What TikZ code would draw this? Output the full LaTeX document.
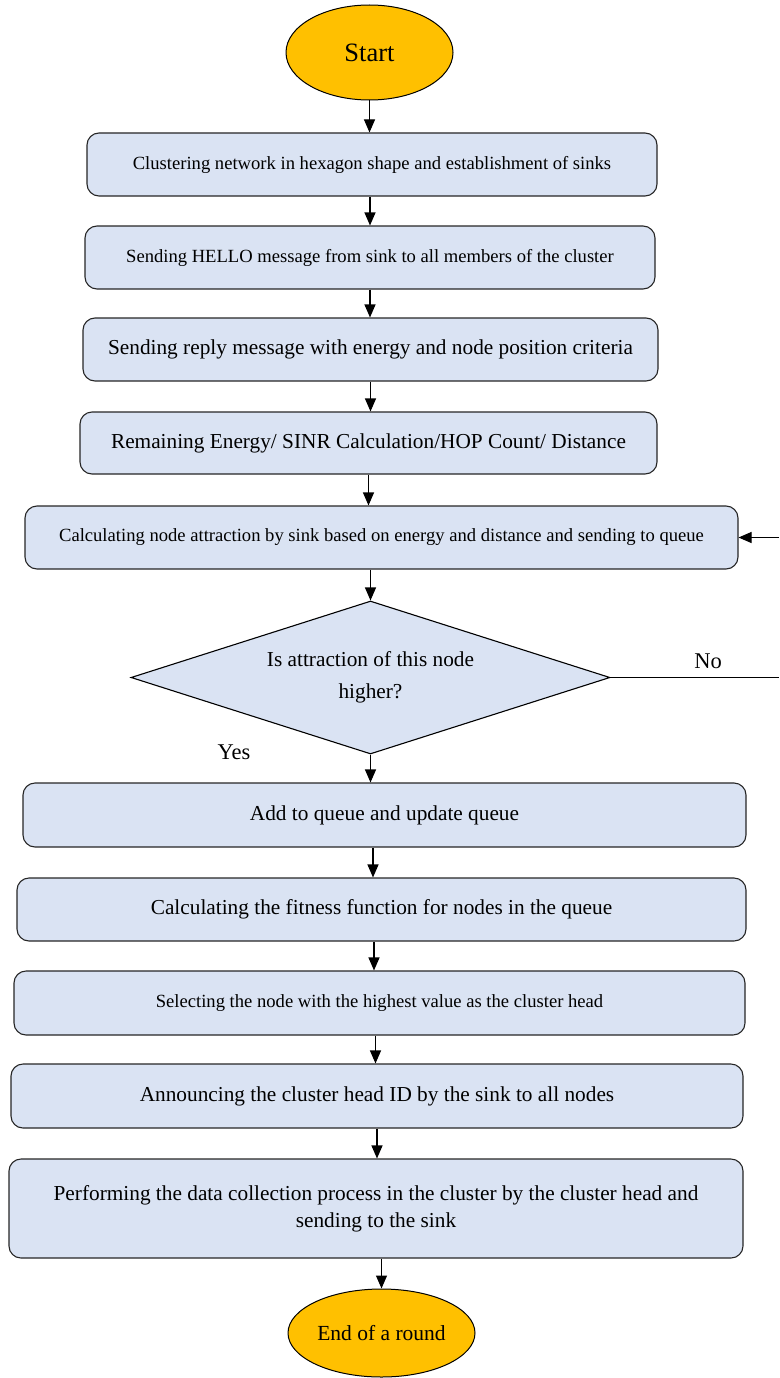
\documentclass[tikz,border=0pt]{standalone}
\usepackage{fontspec}
\setmainfont{Liberation Serif}
\usetikzlibrary{shapes.geometric,arrows.meta}
\definecolor{boxfill}{HTML}{DAE3F3}
\definecolor{gold}{HTML}{FFC000}
\tikzset{
  x=1pt,y=-1pt,
  stepbox/.style={draw=black!85,line width=1.1pt,fill=boxfill,rounded corners=12pt,inner sep=0pt,align=center},
  bigtxt/.style={font=\fontsize{21.3}{27}\selectfont},
  smalltxt/.style={font=\fontsize{18.6}{22}\selectfont},
  term/.style={ellipse,draw=black,line width=1pt,fill=gold,inner sep=0pt},
  decision/.style={diamond,aspect=3.13,draw=black,line width=1.1pt,fill=boxfill,inner sep=0pt,align=center,font=\fontsize{21.3}{32}\selectfont},
  arr/.style={line width=1.1pt,-{Triangle[length=13pt,width=11pt]}},
  plain/.style={line width=1.1pt},
  lbl/.style={font=\fontsize{22.5}{26}\selectfont,inner sep=0pt}
}
\begin{document}
\begin{tikzpicture}
\useasboundingbox (0,0) rectangle (779,1378);
\node[term,minimum width=167pt,minimum height=95pt,font=\fontsize{26.5}{30}\selectfont] (start) at (369.5,52.5) {Start};
\node[stepbox,smalltxt,minimum width=570pt,minimum height=63pt] (b1) at (372,164.5) {Clustering network in hexagon shape and establishment of sinks};
\node[stepbox,smalltxt,minimum width=570pt,minimum height=63pt] (b2) at (370,257.5) {Sending HELLO message from sink to all members of the cluster};
\node[stepbox,bigtxt,minimum width=575pt,minimum height=63pt] (b3) at (370.5,349.5) {Sending reply message with energy and node position criteria};
\node[stepbox,bigtxt,minimum width=577pt,minimum height=62pt] (b4) at (368.5,443) {Remaining Energy/ SINR Calculation/HOP Count/ Distance};
\node[stepbox,smalltxt,minimum width=713pt,minimum height=63pt] (b5) at (381.5,537.5) {Calculating node attraction by sink based on energy and distance and sending to queue};
\node[decision,minimum width=479pt,minimum height=153pt] (dia) at (370.5,677.5) {Is attraction of this node\\higher?};
\node[stepbox,bigtxt,minimum width=723pt,minimum height=64pt] (b6) at (384.5,815) {Add to queue and update queue};
\node[stepbox,bigtxt,minimum width=729pt,minimum height=63pt] (b7) at (381.5,909.5) {Calculating the fitness function for nodes in the queue};
\node[stepbox,smalltxt,minimum width=731pt,minimum height=64pt] (b8) at (379.5,1003) {Selecting the node with the highest value as the cluster head};
\node[stepbox,bigtxt,minimum width=732pt,minimum height=64pt] (b9) at (377,1096) {Announcing the cluster head ID by the sink to all nodes};
\node[stepbox,bigtxt,minimum width=734pt,minimum height=99pt] (b10) at (376,1208.5) {Performing the data collection process in the cluster by the cluster head and\\sending to the sink};
\node[term,minimum width=187pt,minimum height=88pt,font=\fontsize{21.5}{25}\selectfont] (end) at (381.5,1333) {End of a round};
\node[lbl] (no) at (708,661) {No};
\node[lbl] (yes) at (234,752) {Yes};
\coordinate (noend) at (779,677.5);
\coordinate (backin) at (779,537.5);
% connectors
\draw[arr] (start.south) -- (start.south |- b1.north);
\draw[arr] (b2.north |- b1.south) -- (b2.north);
\draw[arr] (b2.south) -- (b2.south |- b3.north);
\draw[arr] (b3.south) -- (b3.south |- b4.north);
\draw[arr] (b4.south) -- (b4.south |- b5.north);
\draw[arr] (b5.south -| dia.north) -- (dia.north);
\draw[arr] (dia.south) -- (dia.south |- b6.north);
\draw[arr] ([xshift=-11.5pt]b6.south) -- ([xshift=-11.5pt]b6.south |- b7.north);
\draw[arr] ([xshift=-7.5pt]b7.south) -- ([xshift=-7.5pt]b7.south |- b8.north);
\draw[arr] ([xshift=-4pt]b8.south) -- ([xshift=-4pt]b8.south |- b9.north);
\draw[arr] (b9.south) -- (b9.south |- b10.north);
\draw[arr] (end.north |- b10.south) -- (end.north);
\draw[plain] (dia.east) -- (noend);
\draw[arr] (backin) -- (b5.east);
\end{tikzpicture}
\end{document}
